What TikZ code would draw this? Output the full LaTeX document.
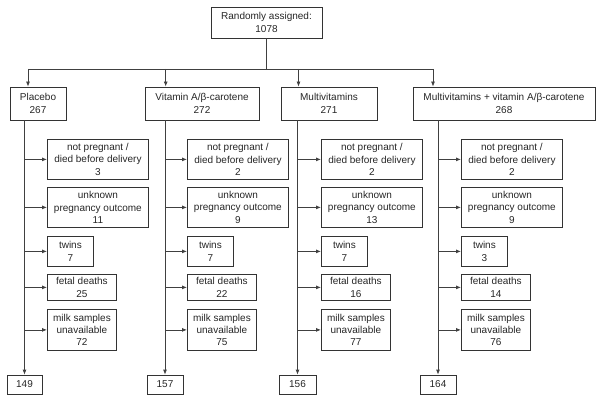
\documentclass[tikz,border=0pt]{standalone}
\usepackage{fontspec}
\setmainfont{Liberation Sans}
\usetikzlibrary{arrows.meta}
\begin{document}
\begin{tikzpicture}[x=1pt,y=-1pt,
  bx/.style={draw=black!80, line width=0.8pt, inner sep=0pt, align=center,
    font=\fontsize{10}{12.3}\selectfont, text=black!85},
  ln/.style={draw=black!75, line width=0.8pt},
  arr/.style={ln, -{Latex[length=5pt,width=4pt]}}]
\useasboundingbox (0,0) rectangle (601,401);
% top
\node[bx, minimum width=111pt, minimum height=31pt] (top) at (266.5,22.5) {Randomly assigned:\\1078};
% group boxes
\node[bx, minimum width=56pt, minimum height=33pt] (g1) at (38,103.5) {Placebo\\267};
\node[bx, minimum width=114pt, minimum height=33pt] (g2) at (202,103.5) {Vitamin A/β-carotene\\272};
\node[bx, minimum width=96pt, minimum height=33pt] (g3) at (329,103.5) {Multivitamins\\271};
\node[bx, minimum width=182pt, minimum height=33pt] (g4) at (504,103.5) {Multivitamins + vitamin A/β-carotene\\268};
% final boxes
\node[bx, minimum width=35pt, minimum height=19pt] (f1) at (24.5,384.5) {149};
\node[bx, minimum width=36pt, minimum height=19pt] (f2) at (165,384.5) {157};
\node[bx, minimum width=37pt, minimum height=19pt] (f3) at (297.5,384.5) {156};
\node[bx, minimum width=36pt, minimum height=19pt] (f4) at (438,384.5) {164};
% hub
\coordinate (hub) at (266.5,69);
\coordinate (j1) at (28,69);
\coordinate (j2) at (165.7,69);
\coordinate (j3) at (298.5,69);
\coordinate (j4) at (433,69);
\draw[ln] (top.south) -- (hub);
\draw[ln] (j1) -- (j4);
\draw[arr] (j1) -- (j1 |- g1.north);
\draw[arr] (j2) -- (j2 |- g2.north);
\draw[arr] (j3) -- (j3 |- g3.north);
\draw[arr] (j4) -- (j4 |- g4.north);
% side boxes: columns
\foreach \c/\xl/\a/\b/\cc/\d/\e in {1/47/3/11/7/25/72, 2/187/2/9/7/22/75, 3/321/2/13/7/16/77, 4/461/2/9/3/14/76}{
  \node[bx, anchor=north west, minimum width=101pt, minimum height=40pt] (a\c) at (\xl,139) {not pregnant /\\died before delivery\\\a};
  \node[bx, anchor=north west, minimum width=101pt, minimum height=40pt] (b\c) at (\xl,187) {unknown\\pregnancy outcome\\\b};
  \node[bx, anchor=north west, minimum width=46pt, minimum height=30pt] (c\c) at (\xl,236) {twins\\\cc};
  \node[bx, anchor=north west, minimum width=69pt, minimum height=26pt] (d\c) at (\xl,274) {fetal deaths\\\d};
  \node[bx, anchor=north west, minimum width=69pt, minimum height=41pt] (e\c) at (\xl,309) {milk samples\\unavailable\\\e};
  \draw[arr] (f\c.north |- g\c.south) -- (f\c.north);
  \draw[arr] (f\c.north |- a\c.west) -- (a\c.west);
  \draw[arr] (f\c.north |- b\c.west) -- (b\c.west);
  \draw[arr] (f\c.north |- c\c.west) -- (c\c.west);
  \draw[arr] (f\c.north |- d\c.west) -- (d\c.west);
  \draw[arr] (f\c.north |- e\c.west) -- (e\c.west);
}
\end{tikzpicture}
\end{document}
